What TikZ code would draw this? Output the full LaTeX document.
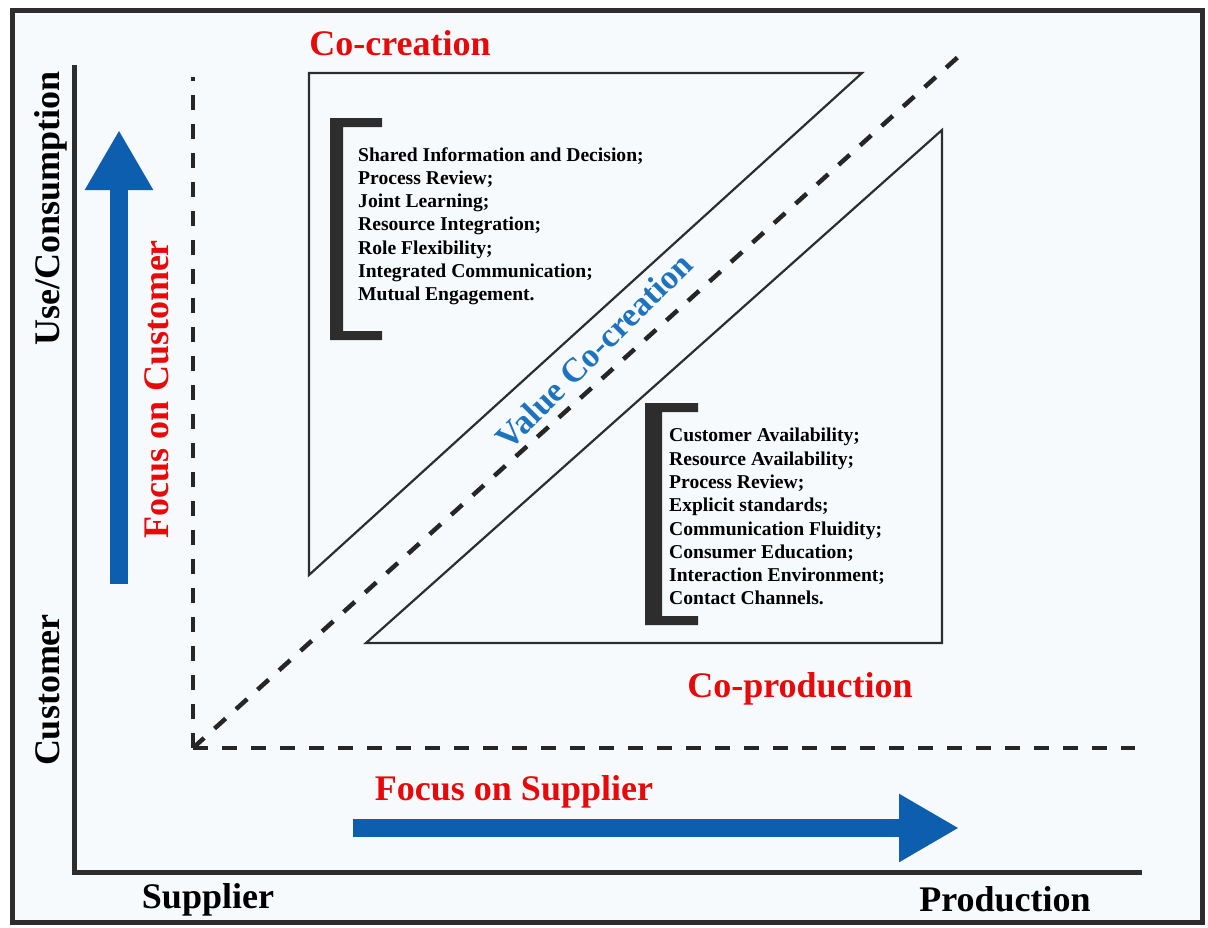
\documentclass[tikz,border=0pt]{standalone}
\usepackage{fontspec}
\setmainfont{Liberation Serif}
\usetikzlibrary{arrows.meta}
\definecolor{bgblue}{RGB}{247,250,252}
\definecolor{frame}{RGB}{45,45,45}
\definecolor{arrowblue}{RGB}{14,94,176}
\definecolor{textblue}{RGB}{30,115,190}
\definecolor{labelred}{RGB}{232,10,10}
\tikzstyle{big} = [font={\fontsize{36}{40}\selectfont\bfseries}, inner sep=0pt]
\tikzstyle{title} = [big, text=labelred]
\tikzstyle{axislabel} = [big, text=black]
\tikzstyle{items} = [font={\fontsize{19.6}{23.3}\selectfont\bfseries}, align=left, inner sep=0pt, anchor=north west]
\tikzstyle{guide} = [draw=black!85, line width=4.5pt, dash pattern=on 15pt off 14pt]
\tikzstyle{zone} = [draw=frame, line width=2.2pt, line join=miter]
\tikzstyle{bracket} = [fill=frame]
\tikzstyle{focus} = [draw=arrowblue, line width=18pt, -{Triangle[width=64pt,length=60pt]}]

\begin{document}
\begin{tikzpicture}[x=1pt,y=-1pt]
    \useasboundingbox (0,0) rectangle (1208,927);
    \fill[white] (0,0) rectangle (1208,927);
    \draw[fill=bgblue, draw=frame, line width=5pt] (12,10) rectangle (1202,922);
    \draw[frame, line width=5pt] (74,65) -- (74,872) -- (1142,872);
    \coordinate (o) at (193,748);
    \coordinate (up) at (193,77);
    \coordinate (right) at (1135,748);
    \coordinate (diag) at (958,57);
    \draw[guide] (o) -- (up);
    \draw[guide] (o) -- (right);
    \draw[guide] (o) -- (diag);
    \draw[zone] (309,73) -- (862,73) -- (309,575) -- cycle;
    \draw[zone] (942,130) -- (942,643) -- (366,643) -- cycle;
    \fill[bracket] (330,118) -- (382,118) -- (382,127) -- (343,127) -- (343,331) -- (382,331) -- (382,340) -- (330,340) -- cycle;
    \fill[bracket] (645,403) -- (698,403) -- (698,412) -- (662,412) -- (662,616) -- (698,616) -- (698,625) -- (645,625) -- cycle;
    \node[items](creation items) at (358,147){Shared Information and Decision;\\Process Review;\\Joint Learning;\\Resource Integration;\\Role Flexibility;\\Integrated Communication;\\Mutual Engagement.};
    \node[items](production items) at (669,428){Customer Availability;\\Resource Availability;\\Process Review;\\Explicit standards;\\Communication Fluidity;\\Consumer Education;\\Interaction Environment;\\Contact Channels.};
    \node[title](cocreation) at (400,43){Co-creation};
    \node[title](coproduction) at (800,689){Co-production};
    \node[title](supplierfocus) at (514,792){Focus on Supplier};
    \node[title,rotate=90](customerfocus) at (157,389){Focus on Customer};
    \node[inner sep=0pt,font={\fontsize{34}{36}\selectfont\bfseries},text=textblue,rotate=45](value) at (594,351){Value Co-creation};
    \node[axislabel,rotate=90](use) at (51,208){Use/Consumption};
    \node[axislabel,rotate=90](customer) at (48,690){Customer};
    \node[axislabel,anchor=base](supplier) at (208,908){Supplier};
    \node[axislabel,anchor=base](production) at (1005,911){Production};
    \coordinate (vstart) at (119,584);
    \coordinate (vend) at (119,130);
    \coordinate (hstart) at (353,828);
    \coordinate (hend) at (959,828);
    \draw[focus] (vstart) -- (vend);
    \draw[focus] (hstart) -- (hend);
  \end{tikzpicture}
\end{document}
